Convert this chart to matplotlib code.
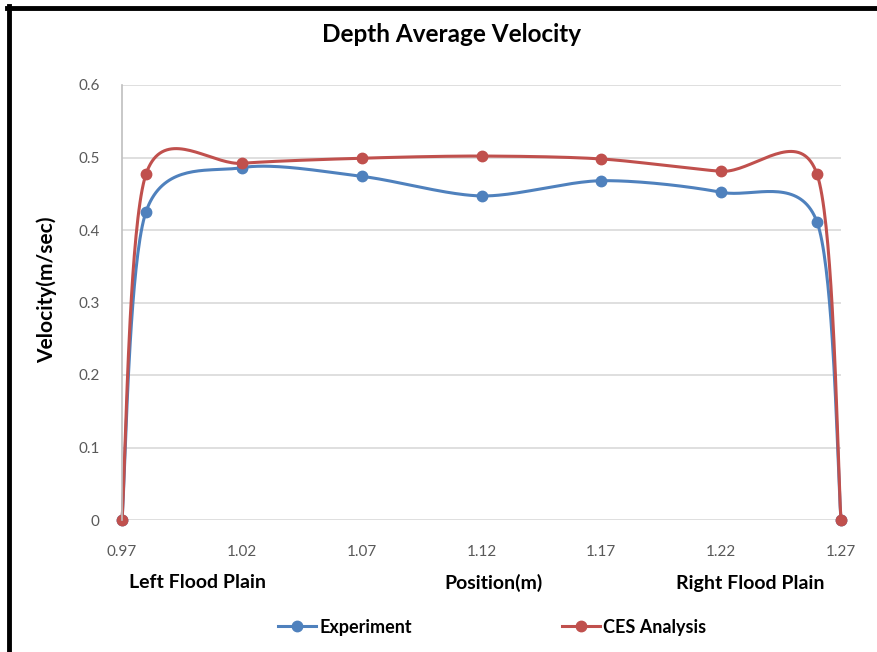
import numpy as np
import matplotlib.pyplot as plt
from matplotlib.lines import Line2D

plt.rcParams['font.family'] = ['Lato', 'DejaVu Sans']

position = [0.97, 0.98, 1.02, 1.07, 1.12, 1.17, 1.22, 1.26, 1.27]
experiment = [0, 0.425, 0.486, 0.474, 0.447, 0.468, 0.452, 0.411, 0]
ces = [0, 0.477, 0.492, 0.499, 0.502, 0.498, 0.481, 0.477, 0]
xticks = [0.97, 1.02, 1.07, 1.12, 1.17, 1.22, 1.27]
yticks = [0, 0.1, 0.2, 0.3, 0.4, 0.5, 0.6]

blue = '#4F81BD'
red = '#C0504D'
grey_txt = '#595959'


def smooth(ax, xs, ys, n=40, k=0.145):
    # spreadsheet style bezier smoothing, done in screen space
    pts = ax.transData.transform(np.column_stack([xs, ys]))
    p = np.vstack([pts[0], pts, pts[-1]])
    out = []
    t = np.linspace(0, 1, n)[:, None]
    for i in range(1, len(p) - 2):
        p0, p1 = p[i], p[i + 1]
        c1 = p0 + (p[i + 1] - p[i - 1]) * k
        c2 = p1 - (p[i + 2] - p[i]) * k
        seg = ((1 - t) ** 3) * p0 + 3 * ((1 - t) ** 2) * t * c1 \
            + 3 * (1 - t) * t ** 2 * c2 + t ** 3 * p1
        out.append(seg)
    out = np.vstack(out)
    back = ax.transData.inverted().transform(out)
    return back[:, 0], back[:, 1]


fig = plt.figure(figsize=(8.78, 6.52), dpi=100)
ax = fig.add_axes([122 / 878, 132 / 652, 719 / 878, 435 / 652])
ax.set_xlim(0.97, 1.27)
ax.set_ylim(0, 0.6)

ax.set_xticks(xticks)
ax.set_xticklabels([f'{v:.2f}' for v in xticks])
ax.set_yticks(yticks)
ax.set_yticklabels(['0', '0.1', '0.2', '0.3', '0.4', '0.5', '0.6'])
ax.tick_params(length=0, labelsize=11, labelcolor=grey_txt)
ax.tick_params(axis='x', pad=18)
ax.tick_params(axis='y', pad=16)
ax.grid(axis='y', color='#D9D9D9', linewidth=1.2)
ax.set_axisbelow(True)
for s in ['top', 'right', 'bottom']:
    ax.spines[s].set_visible(False)
ax.spines['left'].set_color('#BFBFBF')
ax.spines['left'].set_linewidth(1.2)

for ys, col in [(experiment, blue), (ces, red)]:
    sx, sy = smooth(ax, position, ys)
    ax.plot(sx, sy, color=col, linewidth=2.2, clip_on=False)
    ax.plot(position, ys, 'o', color=col, markersize=7.5, clip_on=False)

fig.text(452 / 878, 1 - 35 / 652, 'Depth Average Velocity', ha='center',
         va='center', fontsize=17.5, fontweight='bold')
fig.text(47 / 878, 1 - 290 / 652, 'Velocity(m/sec)', ha='center', va='center',
         rotation=90, fontsize=15, fontweight='bold')
fig.text(198 / 878, 1 - 583 / 652, 'Left Flood Plain', ha='center',
         va='center', fontsize=14, fontweight='bold')
fig.text(494 / 878, 1 - 583 / 652, 'Position(m)', ha='center',
         va='center', fontsize=14, fontweight='bold')
fig.text(750 / 878, 1 - 583 / 652, 'Right Flood Plain', ha='center',
         va='center', fontsize=14, fontweight='bold')

handles = [Line2D([], [], color=blue, linewidth=2.2, marker='o', markersize=7.5),
           Line2D([], [], color=red, linewidth=2.2, marker='o', markersize=7.5)]
leg = fig.legend(handles, ['Experiment', 'CES Analysis'], ncol=2,
                 loc='center', bbox_to_anchor=(492 / 878, 1 - 627 / 652),
                 frameon=False, handlelength=2.1, handletextpad=0.2,
                 columnspacing=8.3, prop={'size': 13, 'weight': 'bold'})

# outer frame, top and left edges only
fig.add_artist(Line2D([7.5 / 878, 1], [1 - 7.5 / 652, 1 - 7.5 / 652],
                      color='black', linewidth=3.5))
fig.add_artist(Line2D([8.5 / 878, 8.5 / 878], [0, 1 - 6 / 652],
                      color='black', linewidth=3.5))

fig.savefig('out.png', dpi=100)
